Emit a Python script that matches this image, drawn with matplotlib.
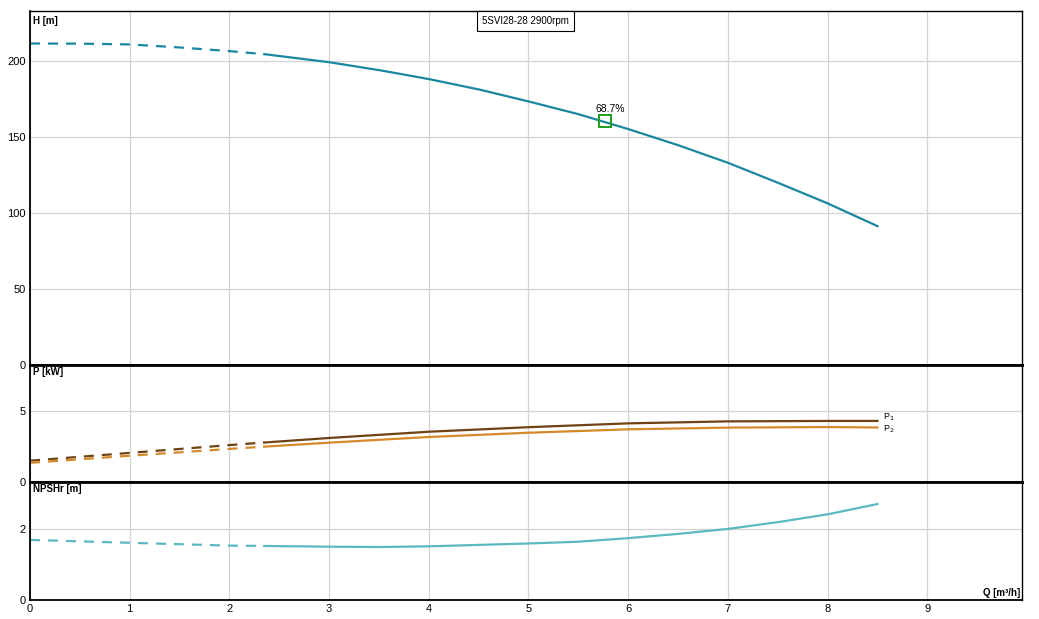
import matplotlib
matplotlib.use("Agg")
import matplotlib.pyplot as plt
import numpy as np

# Data
q_h = [0, 0.5, 1, 1.5, 2, 2.35, 3, 3.5, 4, 4.5, 5, 5.5, 6, 6.5, 7, 7.5, 8, 8.5]
h = [211.6, 211.5, 211.0, 209.0, 206.6, 204.6, 199.3, 194.1, 188.2, 181.4, 173.5,
     165.1, 155.3, 144.7, 133.1, 120.0, 106.4, 91.4]
q_p = [0, 1, 2, 2.35, 3, 4, 5, 6, 7, 8, 8.5]
p1 = [1.5, 2.05, 2.6, 2.78, 3.1, 3.54, 3.86, 4.13, 4.27, 4.3, 4.3]
p2 = [1.35, 1.85, 2.33, 2.49, 2.77, 3.17, 3.47, 3.71, 3.83, 3.87, 3.84]
q_n = [0, 0.5, 1, 1.5, 2, 2.35, 3, 3.5, 4, 4.5, 5, 5.5, 6, 6.5, 7, 7.5, 8, 8.5]
npsh = [1.69, 1.65, 1.61, 1.57, 1.53, 1.52, 1.50, 1.49, 1.51, 1.55, 1.59, 1.64,
        1.74, 1.86, 2.0, 2.19, 2.41, 2.70]
split_q = 2.35
bep_q, bep_h, bep_label = 5.77, 160.3, "68.7%"
title = "5SVI28-28 2900rpm"
x_ticks = [0, 1, 2, 3, 4, 5, 6, 7, 8, 9]

W, H = 1039, 619
fig = plt.figure(figsize=(W / 100, H / 100), dpi=100)

left = 30 / W
width = (1022 - 30) / W
def yb(top_px, bot_px):
    return (H - bot_px) / H, (bot_px - top_px) / H

panels = [
    (11, 365, (0, 233), [0, 50, 100, 150, 200], "H [m]"),
    (365, 482, (0, 8.24), [0, 5], "P [kW]"),
    (482, 600, (0, 3.32), [0, 2], "NPSHr [m]"),
]
axes = []
for top, bot, ylim, yt, lab in panels:
    b, hgt = yb(top, bot)
    ax = fig.add_axes([left, b, width, hgt])
    ax.set_xlim(0, 9.95)
    ax.set_ylim(*ylim)
    ax.set_yticks(yt)
    ax.set_xticks(x_ticks)
    ax.grid(True, color="#d3d3d3", linewidth=0.9)
    ax.set_axisbelow(True)
    ax.tick_params(length=0, labelsize=8, pad=3, colors="#000000")
    for s in ax.spines.values():
        s.set_linewidth(1.0)
        s.set_color("black")
    ax.spines["left"].set_linewidth(1.3)
    ax.text(0.003, 0.985, lab, transform=ax.transAxes, ha="left", va="top",
            fontsize=7, fontweight="bold", family="Liberation Sans")
    axes.append(ax)

for ax in axes[:-1]:
    ax.tick_params(labelbottom=False)
    ax.spines["bottom"].set_linewidth(2.0)
axes[1].spines["top"].set_linewidth(2.0)
axes[2].spines["top"].set_linewidth(2.0)
axes[2].spines["bottom"].set_linewidth(1.3)

def draw(ax, xs, ys, color, lw=1.6):
    xs = np.array(xs); ys = np.array(ys)
    i = list(xs).index(split_q)
    ax.plot(xs[:i + 1], ys[:i + 1], color=color, lw=lw, dashes=(4.5, 3.6),
            solid_capstyle="butt", solid_joinstyle="round")
    ax.plot(xs[i:], ys[i:], color=color, lw=lw, solid_joinstyle="round")

draw(axes[0], q_h, h, "#1a87a0")
axes[0].plot([bep_q], [bep_h], marker="s", ms=8, mfc="none", mec="#1ea01e", mew=1.4)
axes[0].text(bep_q + 0.05, bep_h + 5, bep_label, ha="center", va="bottom", fontsize=7.5,
             family="Liberation Sans")
axes[0].text(4.97, 226.6, title, ha="center", va="center", fontsize=7,
             family="Liberation Sans",
             bbox=dict(boxstyle="square,pad=0.5", fc="white", ec="black", lw=0.8))

draw(axes[1], q_p, p1, "#6e4212")
draw(axes[1], q_p, p2, "#d58a2a")
axes[1].text(8.56, 4.55, "P$_1$", fontsize=6.5, va="center", family="Liberation Sans")
axes[1].text(8.56, 3.7, "P$_2$", fontsize=6.5, va="center", family="Liberation Sans")

draw(axes[2], q_n, npsh, "#5cb8c0")
axes[2].text(0.998, 0.015, "Q [m³/h]", transform=axes[2].transAxes, ha="right", va="bottom",
             fontsize=7, fontweight="bold", family="Liberation Sans")

for ax in axes:
    for t in ax.get_yticklabels() + ax.get_xticklabels():
        t.set_family("Liberation Sans")

fig.savefig("out.png", dpi=100)
